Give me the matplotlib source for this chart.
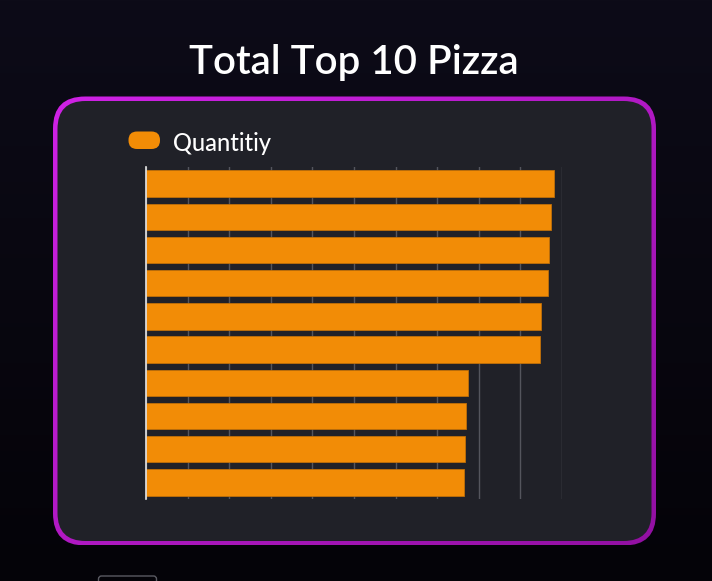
import numpy as np
import matplotlib
matplotlib.use("Agg")
import matplotlib.pyplot as plt
from matplotlib.patches import FancyBboxPatch

# ---- data ----
pizzas = ["The Classic Deluxe Pizza", "The Barbecue Chicken Pizza", "The Hawaiian Pizza",
          "The Pepperoni Pizza", "The Thai Chicken Pizza", "The California Chicken Pizza",
          "The Sicilian Pizza", "The Spicy Italian Pizza", "The Southwest Chicken Pizza",
          "The Big Meat Pizza"]
quantity = [2453, 2432, 2422, 2418, 2371, 2370, 1938, 1924, 1917, 1914]
series_name = "Quantitiy"
title = "Total Top 10 Pizza"
x_ticks = list(range(0, 2501, 250))

W, H = 712, 581
DPI = 100
fig = plt.figure(figsize=(W / DPI, H / DPI), dpi=DPI)
FONT = "Lato"


def fy(y):
    return H - y


# background gradient
bg = fig.add_axes([0, 0, 1, 1], zorder=-10)
bg.set_axis_off()
g = np.linspace(0, 1, 256)[:, None]
top = np.array([0x0d, 0x0b, 0x18]) / 255
bot = np.array([0x04, 0x03, 0x08]) / 255
img = top[None, None, :] * (1 - g[..., None]) + bot[None, None, :] * g[..., None]
img = np.repeat(img, 2, axis=1)
bg.imshow(img, aspect="auto", extent=[0, W, 0, H], origin="upper")
bg.set_xlim(0, W)
bg.set_ylim(0, H)

# panel with gradient border
r = 30
bw = 4.5
outer = FancyBboxPatch((53, fy(545.5)), 656 - 53, 545.5 - 96.5,
                       boxstyle=f"round,pad=0,rounding_size={r+2}",
                       facecolor="none", edgecolor="none")
bg.add_patch(outer)
gx = np.linspace(0, 1, 256)[None, :]
gy = np.linspace(0, 1, 256)[:, None]
t = np.clip((gx + gy) / 2, 0, 1)
c1 = np.array([0xd0, 0x22, 0xe6]) / 255
c2 = np.array([0x92, 0x10, 0xa2]) / 255
bimg = c1[None, None, :] * (1 - t[..., None]) + c2[None, None, :] * t[..., None]
im = bg.imshow(bimg, extent=[53, 656, fy(545.5), fy(96.5)], origin="upper",
               aspect="auto", zorder=1)
im.set_clip_path(outer)
inner = FancyBboxPatch((53 + bw, fy(545.5 - bw)), 656 - 53 - 2 * bw, 545.5 - 96.5 - 2 * bw,
                       boxstyle=f"round,pad=0,rounding_size={r-2}",
                       facecolor="#202128", edgecolor="none", zorder=2)
bg.add_patch(inner)
bg.set_xlim(0, W)
bg.set_ylim(0, H)

# small rectangle at bottom
small = FancyBboxPatch((98.5, fy(590)), 58, 14, boxstyle="round,pad=0,rounding_size=3",
                       facecolor="none", edgecolor="#5a5a62", linewidth=1, zorder=2)
bg.add_patch(small)

# legend
pill = FancyBboxPatch((128.5, fy(149)), 31.5, 17.5, boxstyle="round,pad=0,rounding_size=8.5",
                      facecolor="#f28c06", edgecolor="none", zorder=3)
bg.add_patch(pill)
bg.text(173, fy(143.5), series_name, color="white", fontsize=17, fontfamily=FONT,
        fontweight="medium", ha="left", va="center", zorder=3)

# title
fig.text(353.5 / W, 1 - 62.5 / H, title, color="white", fontsize=29, fontfamily=FONT,
         fontweight="semibold", ha="center", va="center")

# main chart
ax = fig.add_axes([146 / W, 1 - 499 / H, 416 / W, 332 / H], zorder=1)
ax.set_facecolor("none")
y = np.arange(len(pizzas))
ax.barh(y, quantity, height=0.8, color="#f28c06", edgecolor="#c07008",
        linewidth=0.6, zorder=3)
ax.set_xlim(0, 2500)
ax.set_ylim(len(pizzas) - 0.5, -0.5)
ax.set_xticks(x_ticks)
ax.set_yticks(y)
ax.set_xticklabels([])
ax.set_yticklabels([])
ax.tick_params(length=0)
ax.grid(axis="x", color="#54555d", linewidth=1.0, zorder=0)
for s in ["top", "right", "bottom"]:
    ax.spines[s].set_visible(False)
ax.spines["left"].set_color("#e8e8e8")
ax.spines["left"].set_linewidth(1.2)
ax.spines["left"].set_zorder(4)

fig.savefig("out.png", dpi=DPI)
